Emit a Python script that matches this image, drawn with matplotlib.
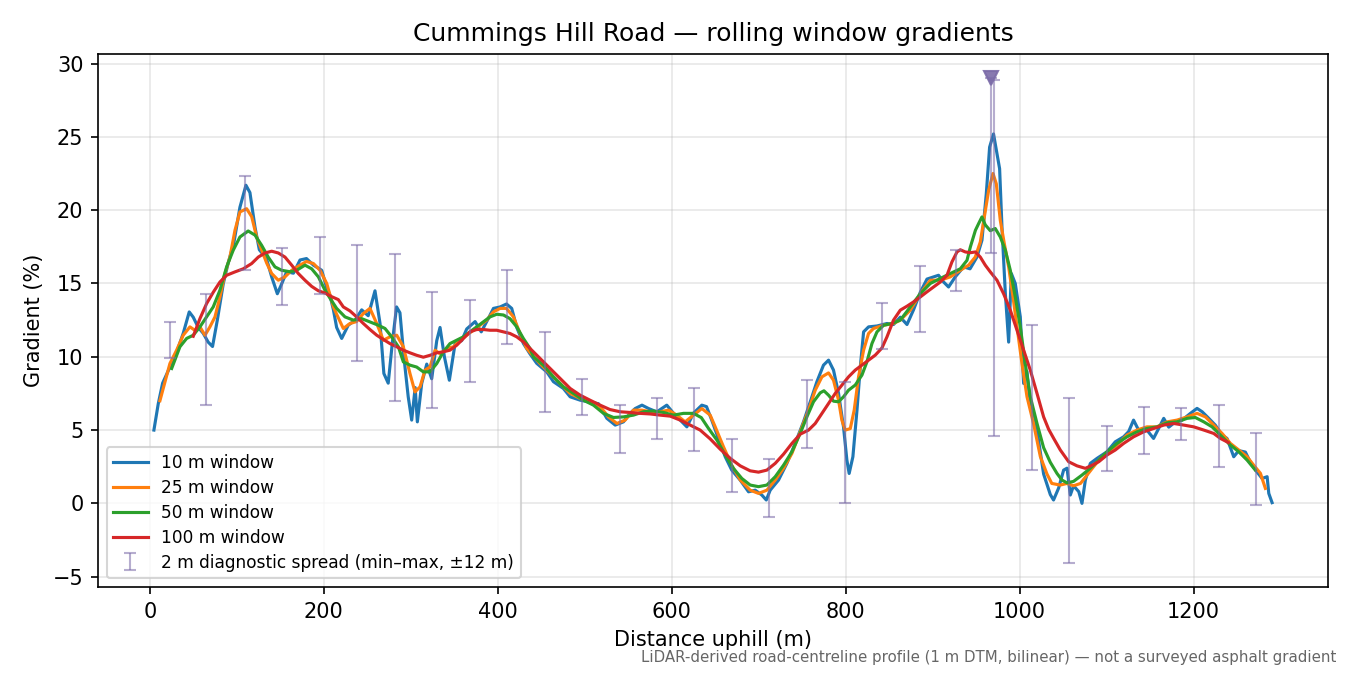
import numpy as np
import matplotlib.pyplot as plt

# 10 m window (distance m, gradient %)
d10 = [4.6, 9.6, 14.6, 23, 30.7, 38.3, 45.2, 49.8, 55.6, 61.3, 67, 72, 77.5, 84.4, 90, 96.6,
       103.5, 110.4, 115, 120.8, 125.8, 134, 140, 146.5, 151, 157.2, 165, 172.6, 180, 188, 197.5,
       203, 207, 211, 214.7, 220.5, 228, 236, 243.5, 251, 258.8, 264.6, 269, 274, 279, 283.6,
       287.5, 292, 297, 301, 305, 307.5, 312.5, 318.3, 324, 329.8, 333.6, 338.6, 344.3, 350.9,
       358.5, 364.3, 373.9, 381, 389, 395, 402.7, 410, 416, 421.8, 429.5, 437, 444.8, 456.3, 464,
       475.4, 483.2, 494.7, 506, 515.7, 525.4, 535, 544.5, 552.2, 558, 565.8, 573.4, 582.8, 594.3,
       602, 609.7, 617.4, 625, 634.6, 640, 646, 653.8, 661.5, 669, 678.7, 688.3, 696, 703.6, 708.7,
       713.2, 722.8, 732.4, 742, 751.5, 759.3, 766.9, 774.5, 780.3, 786, 791.8, 797.5, 801.4, 804,
       808.3, 813, 816.8, 820.6, 826.3, 836, 847.5, 855, 862.8, 870.5, 878, 885.8, 893.5, 906.8,
       912.6, 918.3, 926, 935.6, 943, 950.9, 956.7, 961.7, 965.5, 970, 974, 977, 979.7, 983.6,
       987.4, 990.5, 995, 1000.8, 1004.6, 1008.4, 1012.3, 1020, 1027.6, 1035.3, 1039, 1044.9,
       1050.6, 1054.5, 1058.3, 1062, 1068, 1071.7, 1075.6, 1081.3, 1089, 1100.5, 1110, 1119.6,
       1125.4, 1131, 1136.8, 1146.4, 1154, 1159.8, 1165.7, 1171.5, 1179.2, 1186.8, 1196.4, 1204,
       1209.9, 1217.5, 1225, 1232.8, 1238.5, 1246.2, 1252, 1259.6, 1265.4, 1273, 1278.8, 1284.6,
       1286.5, 1290.3]
g10 = [5.0, 6.8, 8.2, 9.3, 10.3, 11.6, 13.06, 12.7, 12.0, 11.6, 11.0, 10.7, 12.5, 15.0, 16.4, 17.8,
       20.2, 21.7, 21.2, 18.85, 17.3, 16.7, 15.45, 14.3, 14.9, 15.8, 15.7, 16.6, 16.7, 16.25, 15.9,
       14.76, 14.2, 13.2, 12.0, 11.25, 12.15, 12.5, 13.2, 12.8, 14.5, 12.27, 8.86, 8.2, 11.1, 13.4,
       13.0, 10.0, 7.27, 5.68, 7.9, 5.56, 8.18, 9.5, 8.5, 11.1, 12.0, 10.0, 8.4, 10.9,
       11.1, 11.9, 12.4, 11.7, 12.6, 13.3, 13.4, 13.6, 13.3, 12.0, 10.9, 10.2, 9.55, 8.97, 8.3,
       7.84, 7.27, 7.04, 6.9, 6.8, 5.8, 5.34, 5.56, 6.15, 6.47, 6.7, 6.47, 6.24, 6.7,
       6.15, 5.68, 5.22, 6.15, 6.7, 6.6, 5.68, 4.4, 3.18, 2.27, 1.59, 0.79, 0.9, 0.57, 0.23,
       0.9, 1.59, 2.73, 4.1, 5.56, 6.93, 8.3, 9.43, 9.77, 9.09, 7.5, 5.22, 2.95, 2.04,
       3.18, 6.36, 9.3, 11.7, 12.04, 12.1, 12.27, 12.2, 12.7, 12.2, 13.2, 14.4, 15.3, 15.56,
       15.1, 14.76, 15.45, 16.13, 16.0, 16.8, 17.95, 21.13, 24.3, 25.2, 23.86, 22.83, 18.86, 14.3,
       11.0, 15.68, 15.0, 12.72, 8.18, 9.0, 6.8, 5.0, 2.0, 0.6, 0.23, 1.05,
       2.27, 2.4, 0.57, 1.2, 0.8, 0.0, 1.59, 2.73, 3.07, 3.52, 4.2, 4.54,
       4.9, 5.68, 5.0, 5.0, 4.43, 5.1, 5.8, 5.2, 5.56, 5.68, 6.14, 6.48,
       6.25, 5.8, 5.34, 4.66, 4.43, 3.18, 3.6, 3.5, 2.8, 2.14, 1.7, 1.82,
       0.68, 0.05]

# 25 m window
d25 = [11.5, 23, 30.7, 38.3, 46, 51.8, 57.5, 63.3, 69, 74.8, 80.5, 86.3, 92, 97.8, 103.5, 111.2,
       117, 122.7, 128.5, 134.2, 140, 147.6, 155.3, 163, 172.6, 180, 188, 195.6, 203.3, 211,
       214.7, 222.4, 230, 237.6, 245.4, 253, 260.8, 268.4, 276, 283.8, 291.4, 299, 304.8, 310.6,
       316.3, 322, 327.9, 333.6, 341.3, 349, 356.6, 364.3, 372, 379.6, 387.3, 395, 402.6, 410,
       418, 425.6, 433, 437, 448.6, 460, 471.6, 483.2, 494.7, 506, 517.7, 527.2, 537, 546.4, 556,
       565.8, 575.4, 586.7, 596.4, 605.8, 615.4, 625, 634.6, 644.2, 650, 659.5, 669, 678.7, 690.2,
       699.8, 709.4, 719, 728.6, 738.2, 747.7, 757.3, 765, 772.7, 780.3, 786, 791.8, 795.6, 799.5,
       805.3, 809.8, 814.8, 820.6, 826.3, 832, 843.6, 855, 862.8, 874.3, 885.8, 897.3, 908.8,
       920.3, 931.8, 941.4, 949, 954.8, 959.4, 964.4, 969.4, 973.2, 977.8, 982.4, 987.4, 992.4,
       997, 1002.7, 1008.5, 1016, 1023.8, 1031.5, 1037, 1046.7, 1054.4, 1062, 1070, 1077.5, 1085,
       1092.8, 1102.4, 1112, 1123.5, 1135, 1146.4, 1158, 1169.6, 1181, 1192.6, 1204, 1213.7,
       1223.2, 1232.8, 1242.4, 1252, 1261.6, 1269.2, 1276.9, 1282.6]
g25 = [7.0, 9.54, 10.45, 11.47, 12.04, 11.8, 12.04, 11.47, 12.04, 12.72, 14.08, 15.68, 16.8, 18.63,
       19.88, 20.1, 19.56, 18.17, 17.27, 16.4, 15.68, 15.22, 15.45, 15.9, 16.25, 16.5, 16.36, 15.9,
       15.0, 13.4, 12.9, 11.93, 12.27, 12.4, 12.95, 13.3, 12.27, 11.13, 11.36, 11.47, 10.68, 8.86,
       7.6, 7.95, 9.09, 9.3, 10.45, 10.2, 10.57, 10.68, 11.13, 11.47, 11.81, 12.15, 12.5, 13.06,
       13.3, 13.3, 12.72, 11.6, 10.6, 10.3, 9.54, 8.86, 8.18, 7.5, 7.16, 6.93, 6.6, 5.9, 5.45,
       5.68, 6.36, 6.36, 6.25, 6.25, 6.36, 6.02, 5.56, 6.02, 6.47, 6.02, 5.22, 3.86, 2.6, 1.6,
       0.9, 0.68, 0.9, 1.59, 2.4, 3.41, 4.88, 6.36, 7.72, 8.63, 8.9, 8.4, 7.04, 5.68, 5.0,
       5.1, 6.36, 8.63, 10.45, 11.59, 11.93, 12.15, 12.27, 12.5, 13.18, 14.3, 15.22, 15.22,
       15.45, 15.9, 16.25, 16.8, 17.83, 19.54, 21.36, 22.5, 21.8, 19.3, 17.72, 16.13, 14.08,
       12.04, 9.54, 7.27, 5.45, 3.2, 2.0, 1.36, 1.25, 1.36, 1.2, 1.36, 1.93, 2.5,
       3.07, 3.52, 3.98, 4.66, 5.0, 5.22, 5.22, 5.56, 5.68, 5.9, 6.14, 5.9,
       5.34, 4.77, 4.09, 3.64, 3.18, 2.6, 2.05, 1.02]

# 50 m window
d50 = [25, 34.5, 42.2, 49.8, 57.5, 65.2, 72.8, 80.5, 88.2, 95.8, 103.5, 113, 120.8, 128.5, 136,
       143.8, 151.5, 161, 168.7, 178.3, 186, 193.7, 201.3, 207, 214.7, 224.3, 233.9, 243.5, 253,
       262.7, 270.3, 278, 285.7, 291.4, 299, 306.7, 314.4, 322, 329.8, 337.4, 345, 352.8, 360.4,
       368, 375.8, 383.4, 391, 398.8, 406.5, 414, 421.8, 429.4, 437, 441, 452.4, 464, 475.4, 487,
       498.5, 510, 521.5, 533, 544.5, 556, 567.5, 579, 590.5, 602, 613.5, 625, 634, 642.3, 651.9,
       661.5, 671, 680.6, 690.2, 699.8, 709.4, 719, 728.6, 738.2, 747.7, 755.4, 763, 770.7, 775,
       780.3, 786, 791.8, 797.5, 803.3, 811, 818.7, 824.4, 830.2, 836, 843.6, 853.2, 862.8,
       874.3, 885.8, 897.3, 908.8, 920.3, 931.8, 939.5, 943.4, 949.2, 953, 956.7, 960.5, 966.3,
       972, 977.8, 983.6, 989.3, 995, 1000.8, 1006.5, 1012.3, 1020, 1027.6, 1035.3, 1043, 1048.7,
       1054.5, 1062, 1071.7, 1081.3, 1091, 1100.5, 1112, 1123.5, 1135, 1146.4, 1158, 1169.6,
       1181, 1192.6, 1202, 1211.8, 1221.3, 1230.9, 1242.4, 1252, 1261.6, 1271]
g50 = [9.2, 10.68, 11.25, 11.47, 12.04, 12.72, 13.4, 14.54, 16.13, 17.27, 18.17, 18.58, 18.3, 17.6,
       16.8, 16.13, 15.9, 15.8, 15.9, 16.25, 16.0, 15.45, 14.54, 14.0, 13.3, 12.72, 12.5, 12.6,
       12.38, 12.15, 11.93, 11.36, 10.68, 9.65, 9.43, 9.3, 8.97, 8.97, 9.54, 10.34, 10.9, 11.13,
       11.36, 11.7, 12.04, 12.38, 12.72, 12.9, 12.85, 12.6, 12.04, 11.25, 10.57, 10.0, 9.43,
       8.63, 7.95, 7.5, 7.04, 6.7, 6.14, 5.86, 5.9, 6.02, 6.25, 6.3, 6.2, 6.02, 6.14, 6.14, 5.85,
       5.11, 4.32, 3.3, 2.38, 1.7, 1.25, 1.14, 1.25, 1.82, 2.61, 3.52, 4.77, 5.9, 6.93, 7.54, 7.68,
       7.38, 6.97, 6.93, 7.27, 7.72, 8.07, 8.75, 9.65, 10.9, 11.7, 12.15, 12.27, 12.5,
       13.4, 14.3, 15.0, 15.34, 15.68, 16.0, 16.58, 17.5, 18.63, 19.1, 19.54, 19.0, 18.6,
       18.75, 18.17, 17.27, 15.9, 14.08, 12.04, 9.54, 7.27, 5.45, 3.8, 2.8, 2.04, 1.59,
       1.4, 1.5, 1.93, 2.4, 2.95, 3.52, 4.09, 4.54, 4.88, 5.11, 5.22, 5.5,
       5.56, 5.8, 5.86, 5.56, 5.22, 4.66, 3.98, 3.52, 2.95, 2.27]

# 100 m window
d100 = [49.8, 57.5, 65.2, 72.8, 80.5, 88.2, 97.8, 107.3, 117, 124.6, 132.3, 140, 147.6, 155.3, 163,
        170.6, 178.3, 186, 193.7, 201.3, 209, 216.6, 222.4, 230, 237.7, 245.4, 253, 260.8, 268.4,
        276, 283.8, 291.4, 299, 306.8, 314.4, 322, 329.8, 337.4, 345, 352.8, 360.4, 368, 375.8,
        383.4, 391, 398.8, 406.5, 414, 421.8, 429.4, 437, 448.6, 460, 471.6, 483.2, 494.7, 506,
        517.7, 529, 540.6, 552.2, 563.7, 575.2, 586.7, 598.3, 609.7, 621.2, 632.7, 644.2, 655.7,
        667.3, 678.8, 690.2, 699.8, 709.4, 719, 728.6, 738.2, 747.7, 757.3, 765, 772.7, 780.3, 788,
        795.7, 803.3, 811, 818.7, 826.3, 834, 841.7, 847.5, 855, 862.8, 870.5, 878, 885.8, 893.5,
        901, 908.8, 916.5, 922.2, 928, 931.8, 937.6, 943.4, 949.2, 954.8, 960.5, 966.3, 974,
        981.6, 989.3, 997, 1004.6, 1012.3, 1020, 1027.6, 1033.4, 1039.2, 1046.8, 1056.4, 1066,
        1075.6, 1083.3, 1091, 1100.5, 1110, 1119.6, 1131, 1142.6, 1154, 1165.7, 1177.2, 1188.7,
        1200.2, 1211.8, 1223.2, 1230.9, 1240]
g100 = [11.4, 12.6, 13.63, 14.4, 15.1, 15.56, 15.79, 16.0, 16.36, 16.8, 17.08, 17.2, 17.08, 16.8,
        16.25, 15.68, 15.22, 14.8, 14.5, 14.35, 14.1, 13.9, 13.4, 13.13, 12.72, 12.27, 11.86,
        11.47, 11.18, 10.9, 10.68, 10.45, 10.27, 10.1, 9.97, 10.1, 10.27, 10.34, 10.45, 10.79,
        11.25, 11.7, 11.86, 11.86, 11.81, 11.81, 11.7, 11.59, 11.36, 11.02, 10.57, 9.88, 9.2, 8.52,
        7.84, 7.38, 7.04, 6.7, 6.4, 6.25, 6.2, 6.14, 6.1, 6.02, 5.95, 5.68, 5.34, 5.0, 4.4, 3.7,
        3.07, 2.56, 2.22, 2.13, 2.27, 2.73, 3.36, 4.09, 4.72, 5.0, 5.45, 6.14, 6.82, 7.5,
        8.07, 8.63, 9.09, 9.43, 9.77, 10.11, 10.6, 11.36, 12.5, 13.18, 13.45, 13.74, 14.08, 14.43,
        14.76, 15.1, 15.56, 16.47, 17.15, 17.3, 17.15, 17.1, 17.15, 16.8, 16.25, 15.79, 15.22,
        14.3, 13.18, 11.81, 10.45, 9.09, 7.5, 5.9, 5.05, 4.43, 3.64, 2.84, 2.56,
        2.39, 2.6, 2.84, 3.3, 3.64, 4.09, 4.54, 4.88, 5.11, 5.34, 5.45, 5.34,
        5.22, 5.0, 4.77, 4.43, 4.15]

# 2 m diagnostic spread: centre distance, min and max gradient within +/-12 m
spread_d = [23, 65, 109, 152, 195, 238, 282, 324, 368, 411, 454, 497, 540, 583, 626, 669, 712, 755,
            799, 842, 885, 927, 967, 971, 1014, 1057, 1100, 1143, 1186, 1229, 1272]
spread_lo = [9.9, 6.7, 15.9, 13.5, 14.3, 9.7, 7.0, 6.5, 8.3, 10.9, 6.25, 6.0, 3.45, 4.4, 3.6, 0.8,
             -0.9, 3.8, 0.0, 10.5, 11.7, 14.5, 17.1, 4.6, 2.3, -4.05, 2.2, 3.4, 4.3, 2.5, -0.1]
spread_hi = [12.4, 14.25, 22.3, 17.4, 18.2, 17.65, 17.0, 14.4, 13.9, 15.9, 11.7, 8.5, 6.7, 7.2, 7.9,
             4.4, 3.0, 8.4, 8.3, 13.7, 16.2, 17.25, 29.0, 28.9, 12.2, 7.2, 5.3, 6.6, 6.5, 6.7, 4.8]

# steepest 2 m sample
peak_d = 967
peak_g = 29.0

fig, ax = plt.subplots(figsize=(9, 4.5), dpi=150)
fig.subplots_adjust(left=0.0726, right=0.9837, top=0.92, bottom=0.1304)

ax.plot(d10, g10, color="C0", lw=1.5, label="10 m window")
ax.plot(d25, g25, color="C1", lw=1.5, label="25 m window")
ax.plot(d50, g50, color="C2", lw=1.5, label="50 m window")
ax.plot(d100, g100, color="C3", lw=1.5, label="100 m window")

lo = np.array(spread_lo)
hi = np.array(spread_hi)
mid = (lo + hi) / 2
ax.errorbar(spread_d, mid, yerr=(hi - lo) / 2, fmt="none", ecolor="#7b6ba8", alpha=0.55,
            elinewidth=1, capsize=3, label="2 m diagnostic spread (min\u2013max, \u00b112 m)")
ax.plot([peak_d], [peak_g], marker="v", ms=7, color="#7b6ba8", alpha=0.9, ls="none")

ax.set_title("Cummings Hill Road \u2014 rolling window gradients", fontsize=12)
ax.set_xlabel("Distance uphill (m)", fontsize=10)
ax.set_ylabel("Gradient (%)", fontsize=10)
ax.grid(True, alpha=0.3)
ax.legend(loc="lower left", fontsize=8.2, labelspacing=0.4)

fig.text(0.99, 0.015, "LiDAR-derived road-centreline profile (1 m DTM, bilinear) \u2014 not a surveyed asphalt gradient",
         ha="right", va="bottom", fontsize=7.2, color="#666666")

fig.savefig("out.png", dpi=150)
